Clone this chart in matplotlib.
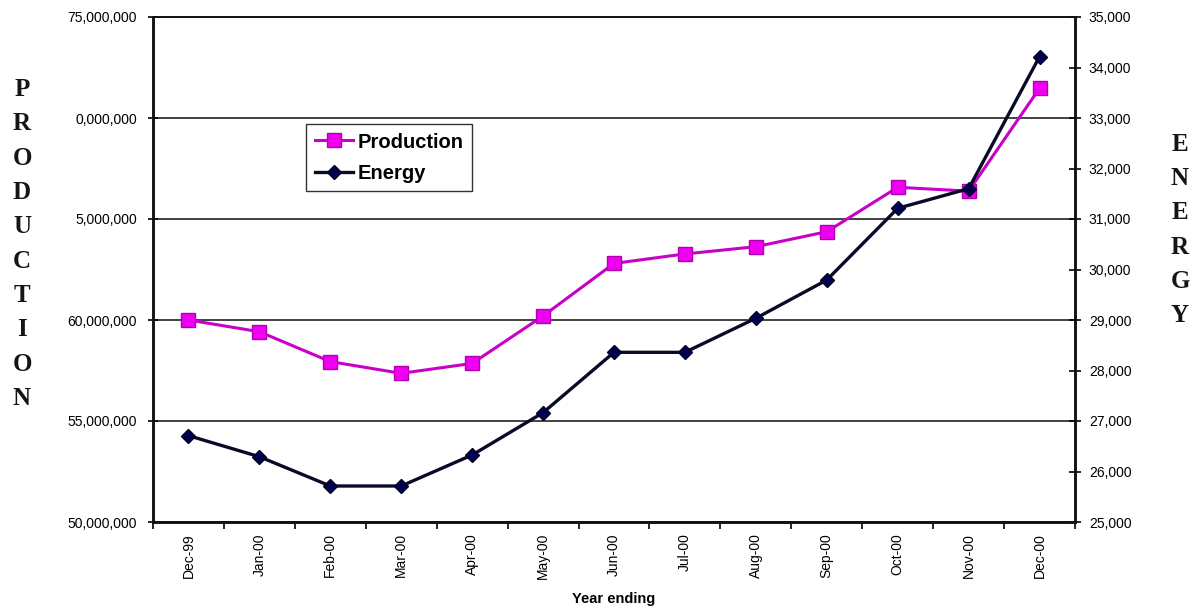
import matplotlib
matplotlib.use("Agg")
import matplotlib.pyplot as plt
from matplotlib.ticker import FixedLocator

# Monthly series, year ending
months = ["Dec-99", "Jan-00", "Feb-00", "Mar-00", "Apr-00", "May-00", "Jun-00",
          "Jul-00", "Aug-00", "Sep-00", "Oct-00", "Nov-00", "Dec-00"]
production = [60.0e6, 59.42e6, 57.94e6, 57.36e6, 57.85e6, 60.2e6, 62.8e6,
              63.27e6, 63.63e6, 64.37e6, 66.57e6, 66.38e6, 71.47e6]
energy = [26710, 26293, 25713, 25713, 26327, 27165, 28360,
          28360, 29034, 29792, 31212, 31600, 34214]

# Left-axis ticks and the labels as printed
prod_ticks = [50e6, 55e6, 60e6, 65e6, 70e6, 75e6]
prod_labels = ["50,000,000", "55,000,000", "60,000,000", "5,000,000", "0,000,000", "75,000,000"]
energy_ticks = list(range(25000, 35001, 1000))
energy_labels = [f"{v:,}" for v in energy_ticks]

plt.rcParams["font.family"] = ["Liberation Sans", "DejaVu Sans"]

fig = plt.figure(figsize=(11.99, 6.11), dpi=100)
ax = fig.add_axes([153 / 1199, 1 - 522 / 611, (1075 - 153) / 1199, (522 - 17) / 611])
ax2 = ax.twinx()

x = list(range(len(months)))

prod_color = "#C800C8"
en_color = "#0A0A28"

l1, = ax.plot(x, production, color=prod_color, lw=2.2, marker="s", ms=10,
              mfc="#F000F0", mec="#B000B0", mew=1.0, label="Production", zorder=3)
l2, = ax2.plot(x, energy, color=en_color, lw=2.4, marker="D", ms=7.5,
               mfc="#000050", mec="#000020", mew=1.0, label="Energy", zorder=3)

ax.set_xlim(-0.5, len(months) - 0.5)
ax.set_ylim(50e6, 75e6)
ax2.set_ylim(25000, 35000)

# Category ticks
ax.xaxis.set_major_locator(FixedLocator(x))
ax.set_xticklabels(months, rotation=90, fontsize=10)
ax.xaxis.set_minor_locator(FixedLocator([i - 0.5 for i in range(len(months) + 1)]))
ax.tick_params(axis="x", which="major", length=0, pad=8)
ax.tick_params(axis="x", which="minor", direction="out", length=5, width=1.2, color="black")

ax.set_yticks(prod_ticks)
ax.set_yticklabels(prod_labels, fontsize=10)
ax.tick_params(axis="y", direction="inout", length=7, width=1.2, pad=8, colors="black")

ax2.set_yticks(energy_ticks)
ax2.set_yticklabels(energy_labels, fontsize=10)
ax2.tick_params(axis="y", direction="inout", length=8, width=1.2, pad=6)

ax.grid(axis="y", color="#222222", lw=1.2)
ax.set_axisbelow(True)

for a in (ax, ax2):
    a.spines["top"].set_linewidth(1.2)
    a.spines["left"].set_linewidth(1.8)
    a.spines["right"].set_linewidth(1.8)
    a.spines["bottom"].set_linewidth(1.8)
    for s in a.spines.values():
        s.set_color("#111111")

ax.set_xlabel("Year ending", fontsize=10.5, fontweight="bold", labelpad=9)

leg = ax2.legend(handles=[l1, l2], loc="upper left", bbox_to_anchor=(0.166, 0.788),
                 frameon=True, fancybox=False, edgecolor="black",
                 prop={"weight": "bold", "size": 14.5}, handlelength=1.9,
                 handletextpad=0.25, labelspacing=0.62, borderpad=0.42,
                 borderaxespad=0)
leg.get_frame().set_linewidth(1.0)

# Stacked axis titles
serif = ["Liberation Serif", "DejaVu Serif"]
fig.text(22 / 1199, 1 - 244 / 611, "\n".join("PRODUCTION"), family=serif,
         fontsize=18, fontweight="bold", ha="center", va="center",
         linespacing=1.63, color="#151515")
fig.text(1180 / 1199, 1 - 230 / 611, "\n".join("ENERGY"), family=serif,
         fontsize=18, fontweight="bold", ha="center", va="center",
         linespacing=1.63, color="#151515")

fig.savefig("out.png", dpi=100)
